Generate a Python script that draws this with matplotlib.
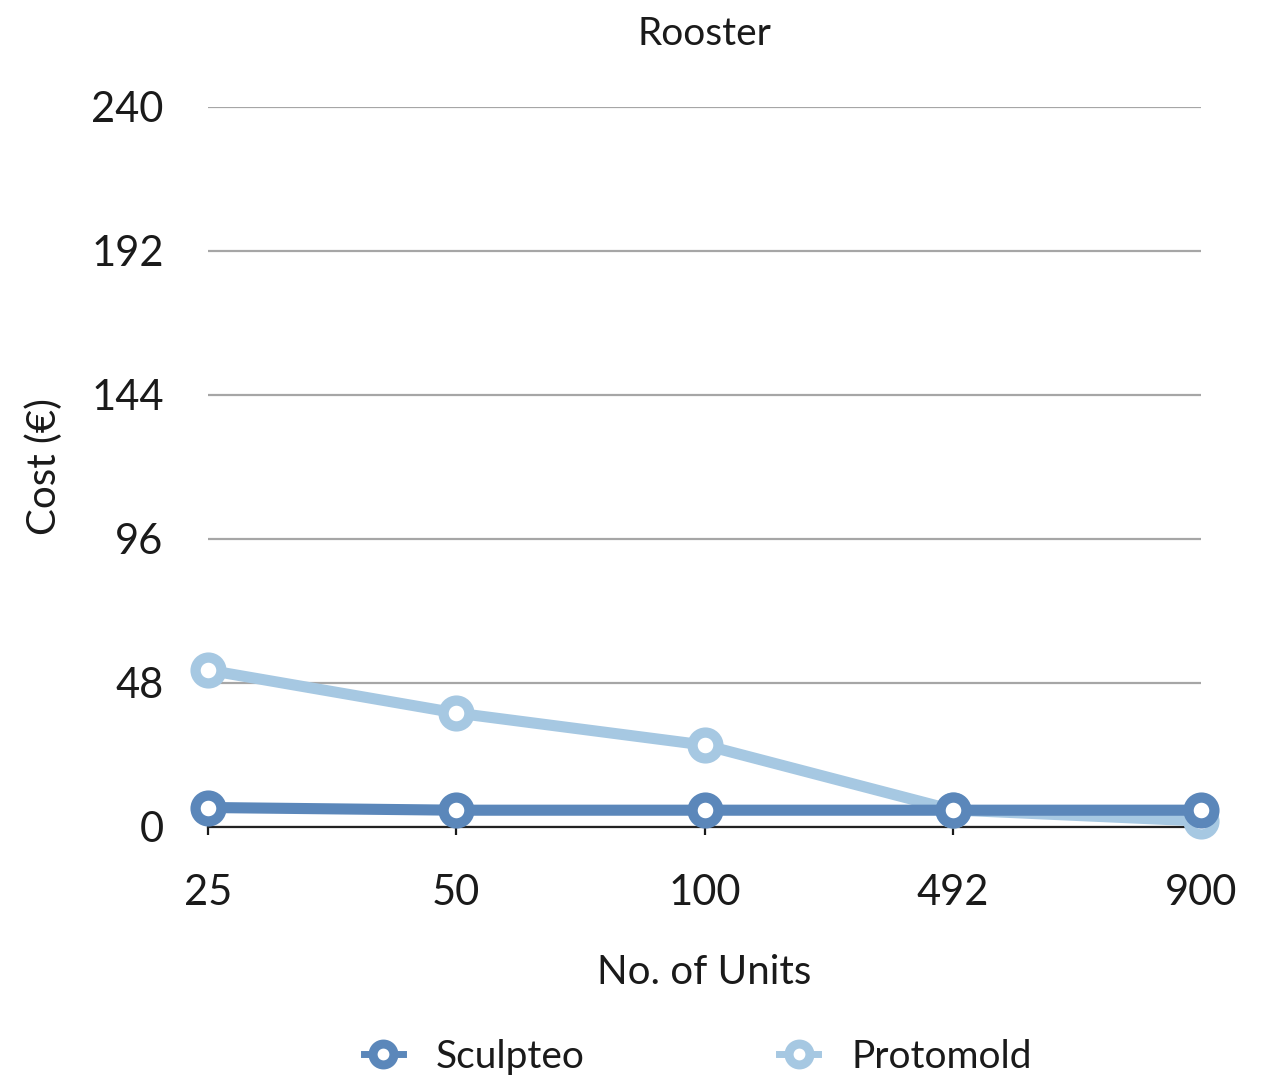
import matplotlib
matplotlib.use("Agg")
import matplotlib.pyplot as plt
from matplotlib.lines import Line2D

plt.rcParams['font.family'] = ['Lato', 'DejaVu Sans']

units = ["25", "50", "100", "492", "900"]
sculpteo = [6.5, 5.6, 5.6, 5.6, 5.6]
protomold = [52.3, 38.0, 27.3, 5.7, 2.0]
yticks = [0, 48, 96, 144, 192, 240]

c_s = "#5B87BA"
c_p = "#A6C8E2"
txt = "#1a1a1a"

W, H = 1262, 1080
fig = plt.figure(figsize=(W/100, H/100), dpi=100)
ax = fig.add_axes([208/W, 1-827/H, (1201-208)/W, (827-107)/H])

x = list(range(len(units)))
ms = 18.6
mew = 7.4
lw = 8
ax.plot(x, protomold, color=c_p, lw=lw, marker='o', ms=ms, mew=mew,
        mfc='white', mec=c_p, zorder=3, clip_on=False, solid_capstyle='round')
ax.plot(x, sculpteo, color=c_s, lw=lw, marker='o', ms=ms, mew=mew,
        mfc='white', mec=c_s, zorder=4, clip_on=False, solid_capstyle='round')

ax.set_xlim(0, len(units)-1)
ax.set_ylim(0, 240)
ax.set_xticks(x)
ax.set_xticklabels(units)
ax.set_yticks(yticks)
ax.set_yticklabels([str(v) for v in yticks])
ax.yaxis.grid(True, color='#a6a6a6', lw=1.6, zorder=0)
ax.set_axisbelow(True)
for s in ['top', 'right', 'left']:
    ax.spines[s].set_visible(False)
ax.spines['bottom'].set_color('#222222')
ax.spines['bottom'].set_linewidth(1.6)
ax.tick_params(axis='y', length=0, labelsize=30, pad=32, colors=txt)
ax.tick_params(axis='x', length=6, width=1.6, labelsize=30, pad=27.5, colors=txt)

ax.set_xlabel("No. of Units", fontsize=29, labelpad=30.5, color=txt)
ax.set_ylabel("Cost (€)", fontsize=29, labelpad=20, color=txt)
ax.set_title("Rooster", fontsize=28, pad=44.6, color=txt)

handles = [
    Line2D([0], [0], color=c_s, lw=5, marker='o', ms=15, mew=6.5, mfc='white', mec=c_s),
    Line2D([0], [0], color=c_p, lw=5, marker='o', ms=15, mew=6.5, mfc='white', mec=c_p),
]
fig.legend(handles, ["Sculpteo", "Protomold"], loc='center', bbox_to_anchor=(0.553, 1-1057/H),
           ncol=2, frameon=False, fontsize=28, handlelength=1.0, columnspacing=5.0,
           handletextpad=0.85, labelcolor=txt)

fig.savefig("out.png", dpi=100)
